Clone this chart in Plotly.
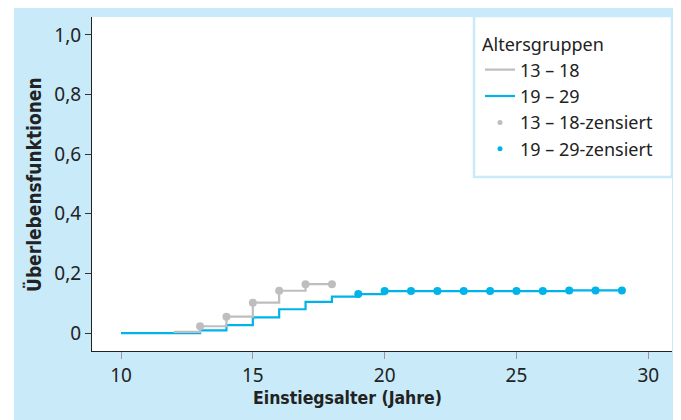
import plotly.graph_objects as go

# ---- data ----
ages_13_18 = [12, 13, 14, 15, 16, 17, 18]
surv_13_18 = [0.004, 0.023, 0.055, 0.102, 0.142, 0.164, 0.164]
cens_x_13_18 = [13, 14, 15, 16, 17, 18]
cens_y_13_18 = [0.023, 0.055, 0.102, 0.142, 0.164, 0.164]

ages_19_29 = [10, 13, 14, 15, 16, 17, 18, 19, 20, 21, 22, 23, 24, 25, 26, 27, 28, 29]
surv_19_29 = [0.0, 0.009, 0.027, 0.053, 0.080, 0.105, 0.122, 0.131, 0.141, 0.141,
              0.141, 0.141, 0.141, 0.141, 0.141, 0.143, 0.143, 0.143]
cens_x_19_29 = [19, 20, 21, 22, 23, 24, 25, 26, 27, 28, 29]
cens_y_19_29 = [0.131, 0.141, 0.141, 0.141, 0.141, 0.141, 0.141, 0.141, 0.143, 0.143, 0.143]

x_ticks = [10, 15, 20, 25, 30]
y_ticks = [0, 0.2, 0.4, 0.6, 0.8, 1.0]
y_ticktext = ["0", "0,2", "0,4", "0,6", "0,8", "1,0"]

legend_title = "Altersgruppen"
names = ["13 – 18", "19 – 29", "13 – 18-zensiert", "19 – 29-zensiert"]

GRAY = "#bebebe"
BLUE = "#00b4ea"
BG = "#c8eaf9"
FONT = "Noto Sans, Open Sans, sans-serif"
BOLD_FONT = "Liberation Sans Narrow, DejaVu Sans Condensed, sans-serif"

fig = go.Figure()

# real traces
fig.add_trace(go.Scatter(x=ages_19_29, y=surv_19_29, mode="lines", line_shape="hv",
                         line=dict(color=BLUE, width=2.2), showlegend=False, hoverinfo="skip"))
fig.add_trace(go.Scatter(x=ages_13_18, y=surv_13_18, mode="lines", line_shape="hv",
                         line=dict(color=GRAY, width=2.2), showlegend=False, hoverinfo="skip"))
fig.add_trace(go.Scatter(x=cens_x_13_18, y=cens_y_13_18, mode="markers",
                         marker=dict(color=GRAY, size=8), showlegend=False))
fig.add_trace(go.Scatter(x=cens_x_19_29, y=cens_y_19_29, mode="markers",
                         marker=dict(color=BLUE, size=8), showlegend=False))

# legend entries
fig.add_trace(go.Scatter(x=[None], y=[None], mode="lines", line=dict(color=GRAY, width=2.2), name=names[0]))
fig.add_trace(go.Scatter(x=[None], y=[None], mode="lines", line=dict(color=BLUE, width=2.2), name=names[1]))
fig.add_trace(go.Scatter(x=[None], y=[None], mode="markers", marker=dict(color=GRAY, size=5), name=names[2]))
fig.add_trace(go.Scatter(x=[None], y=[None], mode="markers", marker=dict(color=BLUE, size=5), name=names[3]))

OFF = 8  # page body margin offset
W, H = 681, 420
L = 92 - OFF
T = 17 - OFF
R = W - (672 - OFF)
B = H - (351 - OFF)
pw, ph = W - L - R, H - T - B

def px_x(p):
    # p: pixel x in the screenshot
    return (p - OFF - L) / pw

def px_y(p):
    return (H - B - (p - OFF)) / ph

fig.update_layout(
    width=W, height=H,
    margin=dict(l=L, r=R, t=T, b=B),
    paper_bgcolor=BG, plot_bgcolor="white",
    font=dict(family=FONT, size=18, color="#222"),
    showlegend=True,
    legend=dict(x=px_x(480), y=px_y(28), xanchor="left", yanchor="top",
                bgcolor="rgba(0,0,0,0)", borderwidth=0,
                title=dict(text=legend_title, font=dict(size=18)),
                font=dict(size=18), tracegroupgap=0),
    shapes=[
        dict(type="rect", xref="paper", yref="paper", x0=px_x(OFF - 2), x1=px_x(14), y0=px_y(H + OFF + 5), y1=px_y(OFF - 2),
             fillcolor="white", line=dict(width=0), layer="below"),
        dict(type="rect", xref="paper", yref="paper", x0=px_x(474), x1=px_x(672), y0=px_y(177), y1=px_y(16),
             fillcolor="white", line=dict(width=2.5, color=BG), layer="above"),
    ],
    annotations=[
        dict(text="<b>Einstiegsalter (Jahre)</b>", xref="paper", yref="paper",
             x=px_x(347.5), y=px_y(398), xanchor="center", yanchor="middle", showarrow=False,
             font=dict(family=BOLD_FONT, size=17.5, color="#222")),
        dict(text="<b>Überlebensfunktionen</b>", xref="paper", yref="paper",
             x=px_x(33), y=px_y(185), xanchor="center", yanchor="middle", showarrow=False,
             textangle=-90, font=dict(family=BOLD_FONT, size=19, color="#222")),
    ],
)

fig.update_xaxes(range=[8.9, 30.9], tickvals=x_ticks, ticks="outside", ticklen=7, tickwidth=1,
                 tickcolor="#999", showline=True, linecolor="#222", linewidth=1.2,
                 showgrid=False, zeroline=False, tickfont=dict(size=19))
fig.update_yaxes(range=[-0.060, 1.060], tickvals=y_ticks, ticktext=y_ticktext, ticks="outside",
                 ticklen=6, tickwidth=1, tickcolor="#333", showline=True, linecolor="#222",
                 linewidth=1.2, showgrid=False, zeroline=False, tickfont=dict(size=19))

fig.write_html("out.html")
